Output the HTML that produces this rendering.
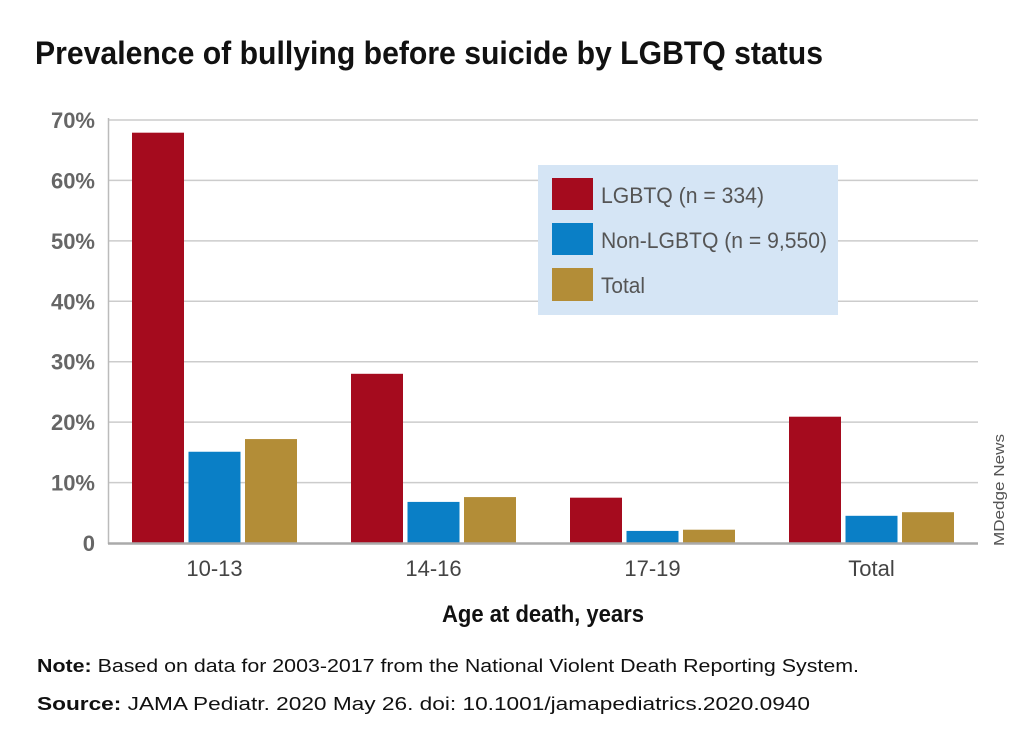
<!DOCTYPE html>
<html><head><meta charset="utf-8"><style>
body{margin:0;background:#fff}
svg{display:block;font-family:"Liberation Sans Narrow","Liberation Sans",sans-serif}
</style></head><body>
<svg id="chart" width="1024" height="751" viewBox="0 0 1024 751" xmlns="http://www.w3.org/2000/svg">
<text x="35" y="64" font-size="32" font-weight="bold" fill="#111" textLength="788" lengthAdjust="spacingAndGlyphs">Prevalence of bullying before suicide by LGBTQ status</text>
<g id="grid"></g>
<g id="yticks"></g>
<line x1="108.5" y1="118" x2="108.5" y2="544" stroke="#bbb" stroke-width="1.5"/>
<g id="bars"></g>
<line x1="108" y1="543.5" x2="978" y2="543.5" stroke="#aaa" stroke-width="2.5"/>
<g id="xticks"></g>
<text x="543" y="622" font-size="24" font-weight="bold" fill="#111" text-anchor="middle" textLength="202" lengthAdjust="spacingAndGlyphs">Age at death, years</text>
<g>
<rect x="538" y="165" width="300" height="150" fill="#d5e5f5"/>
<rect x="552" y="178" width="41" height="32" fill="#a50b1e"/>
<rect x="552" y="223" width="41" height="32" fill="#0a7fc6"/>
<rect x="552" y="268" width="41" height="33" fill="#b38d37"/>
<text x="601" y="203" font-size="22" fill="#555" textLength="163" lengthAdjust="spacingAndGlyphs">LGBTQ (n = 334)</text>
<text x="601" y="248" font-size="22" fill="#555" textLength="226" lengthAdjust="spacingAndGlyphs">Non-LGBTQ (n = 9,550)</text>
<text x="601" y="293" font-size="22" fill="#555" textLength="44" lengthAdjust="spacingAndGlyphs">Total</text>
</g>
<text transform="translate(1004,546) rotate(-90)" font-size="15" fill="#555" textLength="112" lengthAdjust="spacingAndGlyphs">MDedge News</text>
<text x="37" y="672" font-size="18" fill="#111" textLength="822" lengthAdjust="spacingAndGlyphs"><tspan font-weight="bold">Note:</tspan> Based on data for 2003-2017 from the National Violent Death Reporting System.</text>
<text x="37" y="710" font-size="18" fill="#111" textLength="773" lengthAdjust="spacingAndGlyphs"><tspan font-weight="bold">Source:</tspan> JAMA Pediatr. 2020 May 26. doi: 10.1001/jamapediatrics.2020.0940</text>
</svg>
<script>
const categories = ["10-13","14-16","17-19","Total"];
const lgbtq = [67.9, 28.0, 7.5, 20.9];
const nonLgbtq = [15.1, 6.8, 2.0, 4.5];
const total = [17.2, 7.6, 2.2, 5.1];
const yTicks = [0,10,20,30,40,50,60,70];
const yTickLabels = ["0","10%","20%","30%","40%","50%","60%","70%"];

const NS="http://www.w3.org/2000/svg";
const y0=543, pxPer=(543-120)/70;
const yScale=v=>y0-v*pxPer;
const groupStart=132, groupStep=219, barW=52, barGap=4.5;
const xScale=(i,s)=>groupStart+i*groupStep+s*(barW+barGap);
function mk(tag,attrs,parent){const e=document.createElementNS(NS,tag);for(const k in attrs)e.setAttribute(k,attrs[k]);parent.appendChild(e);return e;}
const grid=document.getElementById('grid'), yt=document.getElementById('yticks');
yTicks.forEach((t,i)=>{
  if(t>0){const l=mk('line',{x1:108,x2:978,y1:yScale(t),y2:yScale(t),stroke:'#ccc','stroke-width':1.5},grid);
  
  }
  const tx=mk('text',{x:95,y:yScale(t)+8,'font-size':22,fill:'#666','font-weight':'600','text-anchor':'end'},yt);
  tx.textContent=yTickLabels[i];
  
  
});
const series=[[lgbtq,'#a50b1e','lgbtq'],[nonLgbtq,'#0a7fc6','non-lgbtq'],[total,'#b38d37','total']];
const bars=document.getElementById('bars');
series.forEach(([vals,col,nm],s)=>{
  vals.forEach((v,i)=>{
    const r=mk('rect',{x:xScale(i,s),y:yScale(v),width:barW,height:y0-yScale(v),fill:col},bars);
    
    
  });
});
const xt=document.getElementById('xticks');
categories.forEach((c,i)=>{
  const tx=mk('text',{x:xScale(i,1)+barW/2,y:576,'font-size':22,fill:'#444','text-anchor':'middle'},xt);
  tx.textContent=c;
  
  
});
</script>
</body></html>
